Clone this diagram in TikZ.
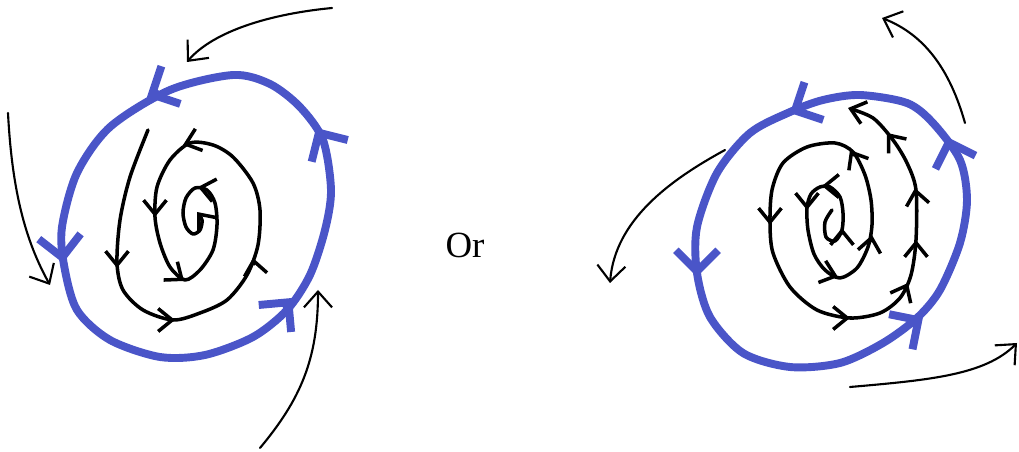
\documentclass[tikz,border=0pt]{standalone}
\usepackage{fontspec}
\setmainfont{Liberation Serif}
\usepackage{xcolor}
\definecolor{cycleBlue}{HTML}{4A55C8}
\usepackage{tikz}
\usetikzlibrary{arrows.meta}

\begin{document}
\begin{tikzpicture}[
  x=0.02cm, y=-0.02cm,
  orbit/.style={draw=cycleBlue, line width=4.5pt, line cap=round, line join=round},
  spiral/.style={draw, line width=2pt, line cap=round, line join=round},
  flow/.style={draw, line width=1.2pt, line cap=round, -{Straight Barb[length=9pt,width=16pt]}},
  bluehead/.style={orbit, -{Straight Barb[length=12pt,width=24pt]}},
  blackhead/.style={spiral, -{Straight Barb[length=8pt,width=13pt]}},
]
  \useasboundingbox (0,0) rectangle (1019,452);

  % stable limit cycle
  \path[orbit]
    plot[smooth cycle] coordinates {(233,75) (170,90) (110,127) (77,173) (62,227)
      (64,265) (77,310) (110,340) (160,357) (205,355) (253,337) (287,310)
      (310,275) (325,230) (331,190) (323,140) (300,107) (270,84)};
  \foreach \fx/\fy/\tx/\ty in {153/94/147/97, 62/255/63/263, 287/304/292/298, 319/133/316/128}
    \draw[bluehead] (\fx,\fy) -- (\tx,\ty);
  \path[blackhead]
    plot[smooth] coordinates {(148,130) (130,177) (120,220) (117,263) (123,290)
      (143,310) (173,320) (200,313) (227,300) (247,275) (258,245) (260,210)
      (253,183) (233,157) (213,145) (190,143) (170,160) (157,187) (155,217)
      (160,243) (170,267) (185,280) (200,270) (213,250) (217,225) (215,203)
      (207,190) (195,188) (186,198) (183,213) (186,227) (193,234) (200,230)
      (202,220) (197,212)};
  \foreach \fx/\fy/\tx/\ty in {117/262/117/268, 169/320/175/320, 254/264/253/258,
      189/143/183/145, 155/211/155/217, 180/278/184/281, 203/188/198/187}
    \draw[blackhead] (\fx,\fy) -- (\tx,\ty);
  \draw[flow] (332,8) .. controls (260,15) and (210,35) .. (187,62);
  \draw[flow] (8,113) .. controls (12,190) and (25,240) .. (50,285);
  \draw[flow] (260,448) .. controls (300,400) and (318,360) .. (318,290);

  \node[font=\fontsize{21}{24}\selectfont] (ortext) at (465,245) {Or};

  % unstable limit cycle
  \path[orbit]
    plot[smooth cycle] coordinates {(860,95) (823,100) (790,112) (750,133)
      (717,173) (697,227) (697,273) (710,317) (743,353) (790,367) (840,363)
      (883,343) (917,318) (940,290) (960,243) (967,200) (960,160) (933,123)
      (907,103)};
  \foreach \fx/\fy/\tx/\ty in {796/110/790/113, 697/270/697/277, 917/321/923/317, 949/143/947/137}
    \draw[bluehead] (\fx,\fy) -- (\tx,\ty);
  \path[blackhead]
    plot[smooth] coordinates {(832,210) (825,222) (826,237) (835,241) (842,230)
      (843,213) (840,197) (830,187) (820,187) (811,194) (807,208) (808,230)
      (814,254) (825,270) (840,278) (857,268) (868,247) (872,225) (871,200)
      (865,175) (853,152) (835,143) (807,147) (783,163) (772,190) (770,223)
      (773,253) (790,287) (817,310) (850,318) (880,313) (900,298) (911,275)
      (916,240) (916,190) (907,163) (893,140) (873,118) (848,108)};
  \foreach \fx/\fy/\tx/\ty in {842/233/842/228, 827/186/822/186, 807/204/807/210,
      832/275/838/277, 871/241/872/235, 853/155/850/150, 770/219/770/225,
      844/318/850/318, 905/289/908/283, 916/246/916/240, 916/194/915/188,
      891/138/887/133}
    \draw[blackhead] (\fx,\fy) -- (\tx,\ty);
  \draw[flow] (965,123) .. controls (950,70) and (925,35) .. (882,18);
  \draw[flow] (725,150) .. controls (670,180) and (615,220) .. (610,283);
  \draw[flow] (850,387) .. controls (930,380) and (985,375) .. (1017,343);
\end{tikzpicture}
\end{document}
